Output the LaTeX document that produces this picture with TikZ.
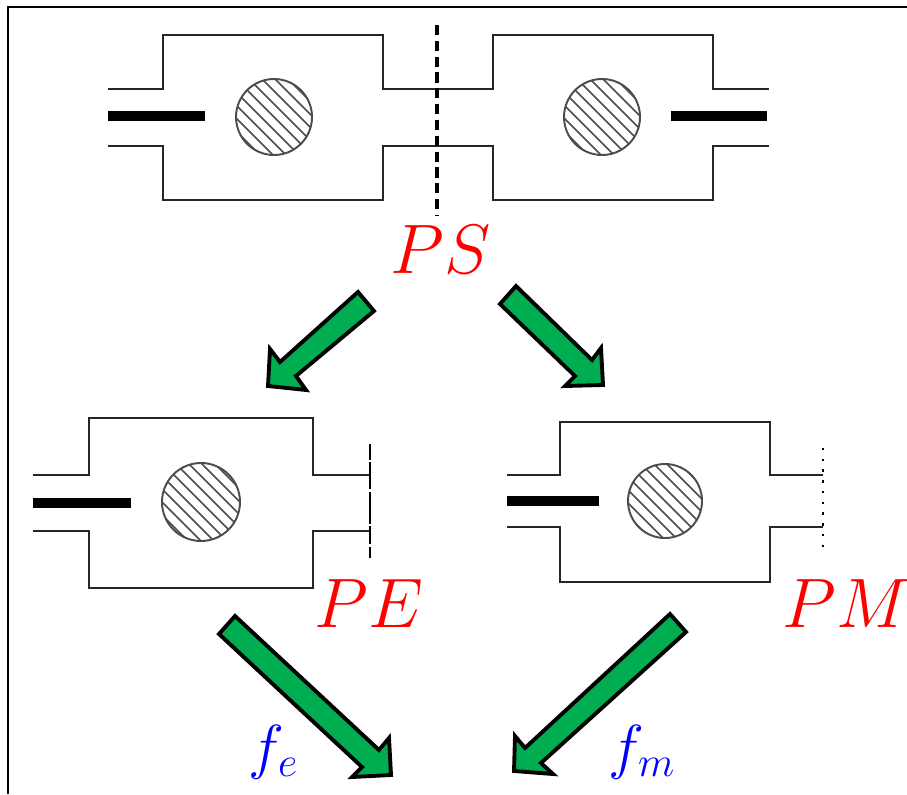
\documentclass[tikz,border=0pt]{standalone}
\begin{document}
\begin{tikzpicture}[
                x=0.01cm,y=-0.01cm,
                frameLine/.style={draw=black,line width=0.85pt},
                wallLine/.style={draw=black!85,line width=0.65pt},
                barLine/.style={draw=black,line width=3.1pt},
                cutDashed/.style={draw=black,line width=1.3pt,dash pattern=on 2.9pt off 1.6pt},
                cutThin/.style={draw=black,line width=0.5pt,dash pattern=on 4.5pt off 0.7pt on 7.7pt off 0.7pt on 9.1pt off 0.7pt on 5.1pt off 0.9pt on 3pt off 3pt},
                cutDotted/.style={draw=black,line width=0.7pt,dash pattern=on 0.7pt off 2.35pt},
                hatchLine/.style={draw=black!70,line width=0.45pt},
                discLine/.style={draw=black!70,line width=0.55pt},
                fluxArrow/.style={draw=black,fill=fluxGreen,line width=1.1pt,line join=miter},
                stateLabel/.style={text=red,inner sep=0pt,anchor=base west,font=\huge,scale=0.96},
                fieldLabel/.style={text=blue,inner sep=0pt,anchor=base west,font=\LARGE}]
                \definecolor{fluxGreen}{RGB}{0,173,80}
                \useasboundingbox (0,0) rectangle (907,794);
                % Outer frame: only the left and top sides stay in the picture.
                \draw[frameLine] (8,794)--(8,7)--(907,7);


                % Top pair of pillboxes, joined at the dashed cut.
                \draw[wallLine] (108,89)--(163,89)--(163,35)--(383,35)--(383,89)--(493,89)
                                --(493,35)--(713,35)--(713,89)--(769,89);
                \draw[wallLine] (108,146)--(163,146)--(163,200)--(383,200)--(383,146)--(493,146)
                                --(493,200)--(713,200)--(713,146)--(769,146);
                \draw[barLine] (108,116)--(205,116);
                \draw[barLine] (671,116)--(767,116);
                \draw[cutDashed] (437,25)--(437,215);
                \node[stateLabel] (labelPS) at (390,273) {$PS$};


                % Lower left pillbox, closed by a thin wall.
                \draw[wallLine] (33,475)--(89,475)--(89,418)--(313,418)--(313,475)--(370,475);
                \draw[wallLine] (33,531)--(89,531)--(89,588)--(313,588)--(313,531)--(370,531);
                \draw[barLine] (33,503)--(131,503);
                \draw[cutThin] (370,444)--(370,559);
                \node[stateLabel] (labelPE) at (314,627) {$PE$};


                % Lower right pillbox, closed by a dotted wall.
                \draw[wallLine] (507,475)--(560,475)--(560,422)--(770,422)--(770,475)--(823,475);
                \draw[wallLine] (507,527)--(560,527)--(560,582)--(770,582)--(770,527)--(823,527);
                \draw[barLine] (507,501)--(599,501);
                \draw[cutDotted] (823,448)--(823,555);
                \node[stateLabel] (labelPM) at (782,627) {$PM$};


                % Hatched discs.
                \foreach \cx/\cy/\rad in {274/117/38,602/117/38,201/502/39,665/501/37}{
                    \begin{scope}
                        \clip (\cx,\cy) circle (\rad);
                        \foreach \d in {-6,...,6}
                            \draw[hatchLine] (\cx+\d*13-60,\cy-60) -- ++(120,120);
                    \end{scope}
                    \draw[discLine] (\cx,\cy) circle (\rad);
                }


                % Green arrows, tail first.
                \draw[fluxArrow] (358,292)--(374,311)--(296,376)--(306,390)--(268,386)--(270,349)--(280,362)--cycle;
                \draw[fluxArrow] (516,286)--(500,304)--(575,376)--(565,386)--(603,385)--(601,348)--(592,360)--cycle;
                \draw[fluxArrow] (235,616)--(219,634)--(362,767)--(352,777)--(391,775)--(389,738)--(379,750)--cycle;
                \draw[fluxArrow] (670,614)--(686,632)--(541,763)--(553,774)--(514,771)--(515,736)--(525,748)--cycle;
                \node[fieldLabel] (labelFe) at (248,767) {$f_e$};
                \node[fieldLabel] (labelFm) at (608,767) {$f_m$};

\end{tikzpicture}
\end{document}
